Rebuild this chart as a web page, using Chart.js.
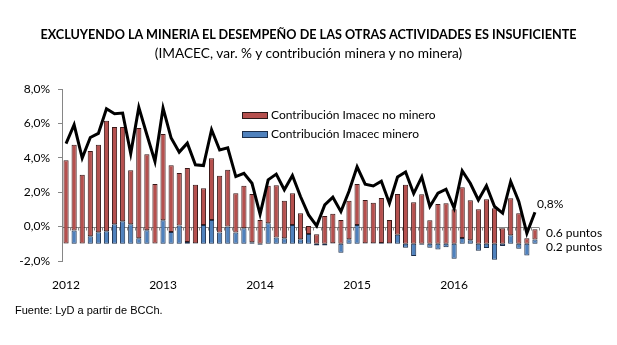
<!DOCTYPE html>
<html>
<head>
<meta charset="utf-8">
<script src="https://cdn.jsdelivr.net/npm/chart.js@4.4.1/dist/chart.umd.min.js"></script>
<style>
  html, body { margin: 0; padding: 0; background: #fff; }
  #wrap { position: relative; width: 617px; height: 345px; overflow: hidden; font-family: Lato, "Open Sans", sans-serif; color: #000; }
  #c { position: absolute; left: 0; top: 0; }
  .t { position: absolute; white-space: nowrap; line-height: 1; }
  #title { left: 0; width: 617px; text-align: center; top: 29px; font-size: 12.65px; font-weight: bold; }
  #subtitle { left: 0; width: 617px; text-align: center; top: 46px; font-size: 13.7px; }
  .lg { position: absolute; left: 242px; width: 26px; height: 7px; box-sizing: border-box; border: 1px solid #2a1a1a; }
  .lgt { left: 271px; font-size: 12px; }
  #src { left: 15px; top: 305px; font-size: 11px; font-family: "Liberation Sans", Arial, sans-serif; }
  .ann { font-size: 12px; }
</style>
</head>
<body>
<div id="wrap">
  <canvas id="c" width="617" height="345"></canvas>
  <div class="t" id="title">EXCLUYENDO LA MINERIA EL DESEMPEÑO DE LAS OTRAS ACTIVIDADES ES INSUFICIENTE</div>
  <div class="t" id="subtitle">(IMACEC, var. % y contribución minera y no minera)</div>
  <div class="lg" style="top:112px;background:#B5504E;"></div>
  <div class="t lgt" style="top:109px;">Contribución Imacec no minero</div>
  <div class="lg" style="top:131px;background:#4F81BD;border-color:#1c2e4a;"></div>
  <div class="t lgt" style="top:128px;">Contribución Imacec minero</div>
  <div class="t ann" style="left:537px;top:198px;">0,8%</div>
  <div class="t ann" style="left:546px;top:227px;">0.6 puntos</div>
  <div class="t ann" style="left:546px;top:241px;">0.2 puntos</div>
  <div class="t" id="src">Fuente: LyD a partir de BCCh.</div>
</div>
<script>
// ---- data (monthly, Jan 2012 - Nov 2016) ----
const years = ['2012', '2013', '2014', '2015', '2016'];
const months = ['01','02','03','04','05','06','07','08','09','10','11','12'];
const categories = [];
years.forEach(y => months.forEach(m => { if (!(y === '2016' && m === '12')) categories.push(y + '-' + m); }));

// IMACEC, var. % a/a
const imacec = [
  4.82, 5.92, 3.98, 5.18, 5.42, 6.85, 6.56, 6.60, 4.25, 6.93, 5.34, 3.79,
  6.89, 5.15, 4.33, 4.85, 3.59, 3.55, 5.63, 4.45, 4.58, 2.91, 3.10, 2.52,
  0.72, 2.72, 3.05, 2.14, 2.97, 1.75, 0.68, 0.04, 1.26, 1.71, 0.87, 2.05,
  3.48, 2.47, 2.36, 2.64, 1.36, 2.88, 3.17, 1.92, 2.89, 1.17, 1.94, 2.17,
  1.07, 3.24, 2.52, 1.55, 2.37, 1.17, 0.78, 2.62, 1.46, -0.39, 0.83
];
// Contribución Imacec minero (puntos)
const contribMinero = [
  0.02, 0.77, 0.02, 0.44, 0.67, 0.73, 1.14, 1.31, 1.14, 0.32, 0.79, 0.02,
  1.37, 0.69, 1.06, 0.10, 0.03, 1.10, 1.39, 0.65, 1.00, 0.65, 0.90, 0.09,
  -0.05, 1.19, 0.36, 0.32, 1.10, 0.26, 0.57, -0.10, -0.10, 0.03, -0.52, 0.26,
  1.10, 0.03, 0.03, 0.05, 0.03, 0.53, -0.23, -0.71, -0.05, -0.23, -0.33, -0.20,
  -0.87, 0.33, 0.20, -0.40, -0.25, -0.93, -0.13, 0.50, -0.29, -0.68, 0.25
];
// Contribución Imacec no minero (puntos)
const contribNoMinero = [
  4.84, 4.99, 3.99, 4.95, 5.09, 6.43, 5.65, 5.48, 3.14, 6.41, 4.42, 3.45,
  5.01, 3.88, 3.05, 4.30, 3.40, 2.13, 3.59, 3.30, 3.30, 2.29, 2.47, 2.81,
  1.38, 2.18, 3.05, 2.18, 1.84, 1.52, 0.47, 0.55, 1.61, 1.71, 1.38, 2.25,
  2.38, 2.51, 2.35, 2.62, 1.35, 2.36, 3.43, 2.42, 2.88, 1.37, 2.32, 2.36,
  2.01, 2.96, 2.33, 2.01, 2.59, 2.07, 0.90, 2.15, 1.78, 0.32, 0.59
];
const yTicks = [-2, 0, 2, 4, 6, 8];
// the stacked bars are drawn from a baseline placed at this level of the IMACEC axis
const barBase = -1.0;

const zeroAxis = {
  id: 'zeroAxis',
  beforeDatasetsDraw(chart) {
    const {ctx, chartArea, scales} = chart;
    const y0 = Math.round(scales.y.getPixelForValue(0)) + 0.5;
    const xs = scales.x;
    const half = (xs.getPixelForValue(1) - xs.getPixelForValue(0)) / 2;
    ctx.save();
    ctx.strokeStyle = '#868686';
    ctx.lineWidth = 1;
    ctx.beginPath();
    ctx.moveTo(chartArea.left, y0);
    ctx.lineTo(chartArea.right, y0);
    for (let i = 0; i <= categories.length; i++) {
      const x = Math.round(xs.getPixelForValue(i) - half) + 0.5;
      ctx.moveTo(x, y0);
      ctx.lineTo(x, y0 + 3);
    }
    ctx.stroke();
    ctx.restore();
  }
};

new Chart(document.getElementById('c'), {
  data: {
    labels: categories,
    datasets: [
      {
        type: 'line', label: 'IMACEC', data: imacec, yAxisID: 'y', order: 0,
        borderColor: '#000', borderWidth: 3, pointRadius: 0, tension: 0, fill: false
      },
      {
        type: 'bar', label: 'Contribución Imacec minero', data: contribMinero, yAxisID: 'y2', order: 1,
        backgroundColor: '#4F81BD', borderColor: '#1c2e4a', borderWidth: 1, borderSkipped: false,
        categoryPercentage: 1, barPercentage: 0.64
      },
      {
        type: 'bar', label: 'Contribución Imacec no minero', data: contribNoMinero, yAxisID: 'y2', order: 1,
        backgroundColor: '#B5504E', borderColor: '#3a1818', borderWidth: 1, borderSkipped: false,
        categoryPercentage: 1, barPercentage: 0.64
      }
    ]
  },
  options: {
    responsive: false, animation: false, devicePixelRatio: 1,
    layout: { padding: { top: 89, right: 78, left: 0, bottom: 0 } },
    plugins: { legend: { display: false }, tooltip: { enabled: false } },
    scales: {
      x: {
        type: 'category', stacked: true, offset: true,
        grid: { display: false }, border: { display: false },
        ticks: {
          autoSkip: false, maxRotation: 0, minRotation: 0, padding: 9,
          color: '#000', font: { family: 'Lato', size: 12 },
          callback: (v, i) => (i % 12 === 0 ? years[i / 12] : '')
        },
        afterFit: s => { s.height = 84; }
      },
      y: {
        min: -2, max: 8, position: 'left',
        afterBuildTicks: s => { s.ticks = yTicks.map(v => ({ value: v })); },
        ticks: {
          color: '#000', font: { family: 'Lato', size: 12 }, padding: 8,
          callback: v => v.toFixed(1).replace('.', ',') + '%'
        },
        grid: { drawOnChartArea: false, drawTicks: true, tickLength: 4, color: '#868686' },
        border: { display: true, color: '#868686' },
        afterFit: s => { s.width = 62; }
      },
      y2: {
        min: -2 - barBase, max: 8 - barBase, stacked: true, display: false
      }
    }
  },
  plugins: [zeroAxis]
});
</script>
</body>
</html>
